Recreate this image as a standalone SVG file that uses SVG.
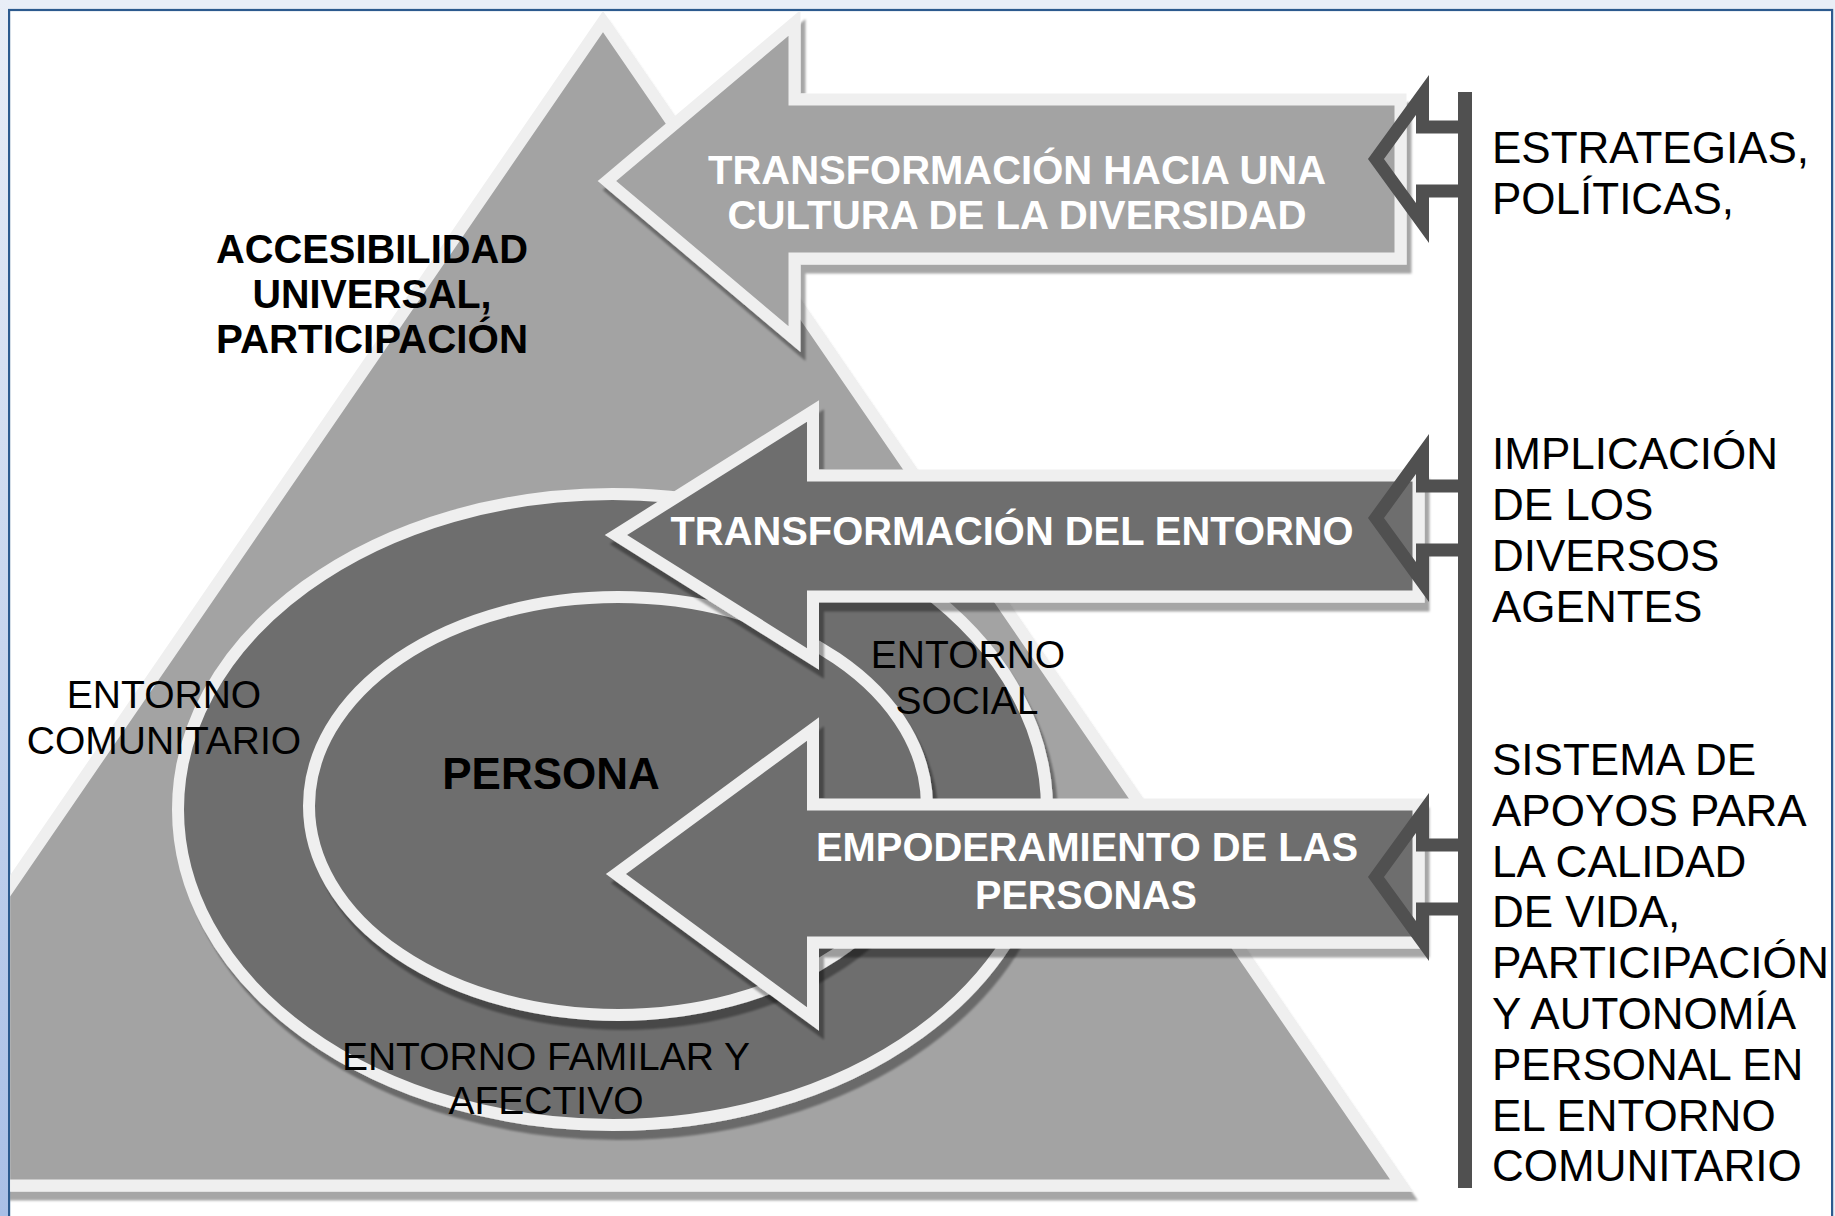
<svg xmlns="http://www.w3.org/2000/svg" width="1835" height="1216" viewBox="0 0 1835 1216">
<defs>
<linearGradient id="lstrip" x1="0" y1="0" x2="0" y2="1">
<stop offset="0" stop-color="#e9eef7"/>
<stop offset="1" stop-color="#a9bfe6"/>
</linearGradient>
<clipPath id="frame"><rect x="10.2" y="11.1" width="1820.8" height="1206"/></clipPath>
<filter id="sh" x="-5%" y="-5%" width="115%" height="115%">
<feDropShadow dx="5" dy="9" stdDeviation="0.8" flood-color="#000" flood-opacity="0.35"/>
</filter>
<style>
.light{fill:#a3a3a3;stroke:#efefef;stroke-width:12;stroke-linejoin:miter}
.dark{fill:#6e6e6e;stroke:#efefef;stroke-width:12;stroke-linejoin:miter}
.ring{stroke:#efefef;stroke-width:12;fill:#6e6e6e}
.outl{fill:none;stroke:#505050;stroke-width:13;stroke-linejoin:miter;stroke-miterlimit:6}
.narrow{font-family:"Liberation Sans Narrow","Liberation Sans",Arial,sans-serif;font-weight:bold;font-size:40px}
.wb{font-family:"Liberation Sans",Arial,sans-serif;font-weight:bold;font-size:40px;fill:#fff}
.reg{font-family:"Liberation Sans",Arial,sans-serif;font-size:39px;fill:#000}
.side{font-family:"Liberation Sans",Arial,sans-serif;font-size:44px;fill:#000}
</style>
</defs>
<rect x="0" y="0" width="1835" height="1216" fill="#e9eef7"/>
<rect x="0" y="0" width="9" height="1216" fill="url(#lstrip)"/>
<rect x="9.1" y="10" width="1823" height="1220" fill="#fff" stroke="#2c5a8e" stroke-width="2.2"/>
<g clip-path="url(#frame)">
<g id="triangle">
<polygon class="light" filter="url(#sh)" points="603,21.5 1401.5,1185.5 -195.5,1185.5"/>
<text class="narrow" fill="#000" text-anchor="middle" x="372" y="263" textLength="312" lengthAdjust="spacingAndGlyphs">ACCESIBILIDAD</text>
<text class="narrow" fill="#000" text-anchor="middle" x="372" y="308" textLength="239" lengthAdjust="spacingAndGlyphs">UNIVERSAL,</text>
<text class="narrow" fill="#000" text-anchor="middle" x="372" y="353" textLength="312" lengthAdjust="spacingAndGlyphs">PARTICIPACIÓN</text>
</g>
<g id="entorno-social">
<ellipse class="ring" filter="url(#sh)" cx="612.5" cy="809.5" rx="434.5" ry="315.5"/>
</g>
<g id="persona">
<ellipse class="ring" filter="url(#sh)" cx="618" cy="806" rx="309" ry="209"/>
<text x="551" y="789" text-anchor="middle" font-family="Liberation Sans, Arial, sans-serif" font-weight="bold" font-size="44" fill="#000">PERSONA</text>
</g>
<g id="label-comunitario">
<text class="reg" text-anchor="middle" x="164" y="708">ENTORNO</text>
<text class="reg" text-anchor="middle" x="164" y="754">COMUNITARIO</text>
</g>
<g id="label-familiar">
<text class="reg" text-anchor="middle" x="546" y="1070">ENTORNO FAMILAR Y</text>
<text class="reg" text-anchor="middle" x="546" y="1114">AFECTIVO</text>
</g>
<g id="arrow-cultura">
<polygon class="light" filter="url(#sh)" points="607,181 794.5,23 794.5,99.5 1400.5,99.5 1400.5,258.5 794.5,258.5 794.5,339"/>
<text class="narrow" fill="#fff" text-anchor="middle" x="1017" y="184" textLength="618" lengthAdjust="spacingAndGlyphs">TRANSFORMACIÓN HACIA UNA</text>
<text class="narrow" fill="#fff" text-anchor="middle" x="1017" y="229" textLength="579" lengthAdjust="spacingAndGlyphs">CULTURA DE LA DIVERSIDAD</text>
</g>
<g id="arrow-entorno">
<polygon class="dark" filter="url(#sh)" points="616,535 813,411 813,475.5 1418.5,475.5 1418.5,596.5 813,596.5 813,659"/>
<text class="wb" text-anchor="middle" x="1012" y="545" textLength="683" lengthAdjust="spacingAndGlyphs">TRANSFORMACIÓN DEL ENTORNO</text>
</g>
<g id="label-social">
<text class="reg" text-anchor="middle" x="968" y="668">ENTORNO</text>
<text class="reg" text-anchor="middle" x="967" y="714">SOCIAL</text>
</g>
<g id="arrow-empoderamiento">
<polygon class="dark" filter="url(#sh)" points="616,874 813,729 813,804.5 1418.5,804.5 1418.5,942.5 813,942.5 813,1019"/>
<text class="wb" text-anchor="middle" x="1087" y="861" textLength="542" lengthAdjust="spacingAndGlyphs">EMPODERAMIENTO DE LAS</text>
<text class="wb" text-anchor="middle" x="1086" y="909" textLength="222" lengthAdjust="spacingAndGlyphs">PERSONAS</text>
</g>
<g id="connectors">
<rect x="1458" y="92" width="14" height="1096" fill="#505050"/>
<path class="outl" d="M1465 127 H1422.5 V95 L1376 159 L1422.5 223 V191 H1465"/>
<path class="outl" d="M1465 486 H1422.5 V454 L1376 518 L1422.5 582 V550 H1465"/>
<path class="outl" d="M1465 845 H1422.5 V813 L1376 877 L1422.5 941 V909 H1465"/>
</g>
<g id="label-estrategias">
<text class="side" x="1492" y="163">ESTRATEGIAS,</text>
<text class="side" x="1492" y="214">POLÍTICAS,</text>
</g>
<g id="label-implicacion">
<text class="side" x="1492" y="469">IMPLICACIÓN</text>
<text class="side" x="1492" y="520">DE LOS</text>
<text class="side" x="1492" y="571">DIVERSOS</text>
<text class="side" x="1492" y="622">AGENTES</text>
</g>
<g id="label-sistema">
<text class="side" x="1492" y="775">SISTEMA DE</text>
<text class="side" x="1492" y="826">APOYOS PARA</text>
<text class="side" x="1492" y="877">LA CALIDAD</text>
<text class="side" x="1492" y="927">DE VIDA,</text>
<text class="side" x="1492" y="978" textLength="337" lengthAdjust="spacingAndGlyphs">PARTICIPACIÓN</text>
<text class="side" x="1492" y="1029">Y AUTONOMÍA</text>
<text class="side" x="1492" y="1080">PERSONAL EN</text>
<text class="side" x="1492" y="1131">EL ENTORNO</text>
<text class="side" x="1492" y="1181">COMUNITARIO</text>
</g>
</g>
</svg>
